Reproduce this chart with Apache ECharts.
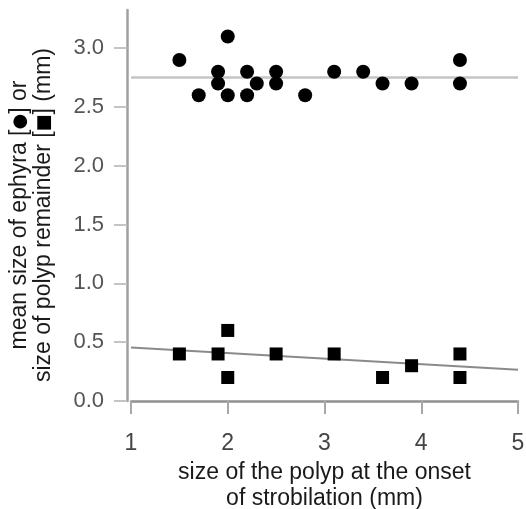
<!DOCTYPE html>
<html>
<head>
<meta charset="utf-8">
<script src="https://cdn.jsdelivr.net/npm/echarts@6/dist/echarts.min.js"></script>
<style>
html,body{margin:0;padding:0;background:#fff;}
#chart{width:526px;height:509px;}
</style>
</head>
<body>
<div id="chart"></div>
<script>
// Data
const ephyraX = [1.5, 1.7, 1.9, 1.9, 2.0, 2.0, 2.2, 2.2, 2.3, 2.5, 2.5, 2.8, 3.1, 3.4, 3.6, 3.9, 4.4, 4.4];
const ephyraY = [2.9, 2.6, 2.8, 2.7, 3.1, 2.6, 2.8, 2.6, 2.7, 2.8, 2.7, 2.6, 2.8, 2.8, 2.7, 2.7, 2.9, 2.7];
const remainderX = [1.5, 1.9, 2.0, 2.0, 2.5, 3.1, 3.6, 3.9, 4.4, 4.4];
const remainderY = [0.4, 0.4, 0.6, 0.2, 0.4, 0.4, 0.2, 0.3, 0.4, 0.2];
const meanLineX = [1, 5];
const meanLineY = [2.75, 2.75];
const fitLineX = [1, 5];
const fitLineY = [0.455, 0.265];
const yTicks = [0, 0.5, 1.0, 1.5, 2.0, 2.5, 3.0];
const xTicks = [1, 2, 3, 4, 5];
const xName = 'size of the polyp at the onset\nof strobilation (mm)';
const yName = '{t|mean size of ephyra [}{s|●}{t|] or}\n{t|size of polyp remainder [}{s|■}{t|] (mm)}';

const zip = (a, b) => a.map((v, i) => [v, b[i]]);
const FONT = '"Liberation Sans", Arial, sans-serif';

const chart = echarts.init(document.getElementById('chart'), null, {renderer: 'canvas'});
chart.setOption({
  animation: false,
  backgroundColor: '#ffffff',
  grid: {left: 131, right: 8, top: 10, bottom: 108, containLabel: false, outerBoundsMode: 'none'},
  xAxis: {
    type: 'value', min: 1, max: 5, interval: 1, offset: 3,
    name: xName, nameLocation: 'middle', nameGap: 45,
    nameTextStyle: {fontFamily: FONT, fontSize: 23, color: '#1a1a1a', lineHeight: 26},
    axisLine: {show: true, lineStyle: {color: '#8f8f8f', width: 2.5}},
    axisTick: {show: true, length: 13, customValues: xTicks, lineStyle: {color: '#a8a8a8', width: 2}},
    axisLabel: {customValues: xTicks, margin: 28, fontFamily: FONT, fontSize: 23, color: '#444',
      formatter: v => String(v)},
    splitLine: {show: false}
  },
  yAxis: {
    type: 'value', min: 0, max: 3.325, offset: 4,
    name: yName, nameLocation: 'middle', nameGap: 71,
    nameTextStyle: {
      fontFamily: FONT, fontSize: 23, color: '#1a1a1a', lineHeight: 24, padding: [0, 19, 0, 0],
      rich: {
        t: {fontFamily: FONT, fontSize: 23, color: '#1a1a1a', lineHeight: 24},
        s: {fontFamily: '"DejaVu Sans", sans-serif', fontSize: 18, color: '#000', lineHeight: 24}
      }
    },
    axisLine: {show: true, lineStyle: {color: '#a0a0a0', width: 2.5}},
    axisTick: {show: true, length: 13, customValues: yTicks, lineStyle: {color: '#c4c4c4', width: 2}},
    axisLabel: {customValues: yTicks, margin: 23, fontFamily: FONT, fontSize: 22, color: '#555',
      formatter: v => v.toFixed(1)},
    splitLine: {show: false}
  },
  series: [
    {
      type: 'line', data: zip(meanLineX, meanLineY), showSymbol: false, symbol: 'none',
      lineStyle: {color: '#c4c4c4', width: 2.5}, z: 1, silent: true
    },
    {
      type: 'line', data: zip(fitLineX, fitLineY), showSymbol: false, symbol: 'none',
      lineStyle: {color: '#8a8a8a', width: 2}, z: 1, silent: true
    },
    {
      type: 'scatter', data: zip(ephyraX, ephyraY), symbol: 'circle', symbolSize: 14,
      itemStyle: {color: '#000', opacity: 1}, z: 3
    },
    {
      type: 'scatter', data: zip(remainderX, remainderY), symbol: 'rect', symbolSize: 13,
      itemStyle: {color: '#000', opacity: 1}, z: 3
    }
  ]
});
</script>
</body>
</html>
